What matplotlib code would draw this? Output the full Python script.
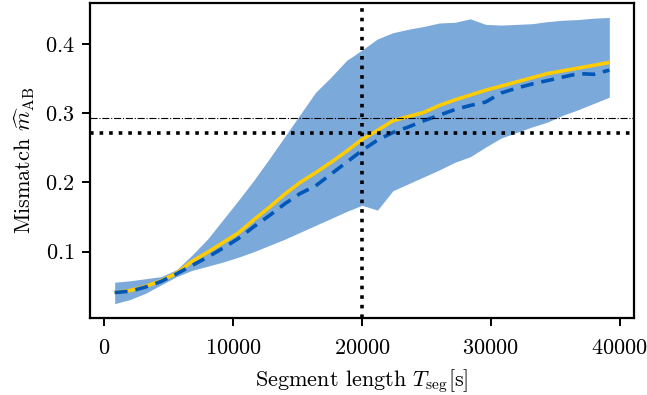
import numpy as np
import matplotlib
matplotlib.use('Agg')
import matplotlib.pyplot as plt

plt.rcParams['font.family'] = 'serif'
plt.rcParams['font.serif'] = ['cmr10']
plt.rcParams['mathtext.fontset'] = 'cm'
plt.rcParams['axes.formatter.use_mathtext'] = True

# segment lengths [s]
t_seg = [800, 2000, 3200, 4400, 5600, 6800, 8000, 9200, 10400, 11600, 12800,
         14000, 15200, 16400, 17600, 18800, 20000, 21200, 22400, 23600, 24800,
         26000, 27200, 28400, 29600, 30800, 32000, 33200, 34400, 35600, 36800,
         38000, 39200]

# median mismatch (solid yellow)
m_median = [0.041, 0.044, 0.050, 0.058, 0.069, 0.086, 0.099, 0.113, 0.127, 0.146,
            0.164, 0.183, 0.200, 0.214, 0.229, 0.245, 0.262, 0.275, 0.289, 0.295,
            0.301, 0.311, 0.319, 0.326, 0.333, 0.339, 0.345, 0.351, 0.357, 0.361,
            0.365, 0.369, 0.373]

# mean mismatch (dashed blue)
m_mean = [0.041, 0.043, 0.049, 0.057, 0.068, 0.080, 0.092, 0.105, 0.119, 0.136,
          0.152, 0.169, 0.184, 0.195, 0.212, 0.229, 0.246, 0.261, 0.272, 0.280,
          0.289, 0.297, 0.305, 0.311, 0.316, 0.329, 0.336, 0.342, 0.347, 0.352,
          0.357, 0.356, 0.362]

# spread band
m_upper = [0.056, 0.058, 0.061, 0.064, 0.074, 0.095, 0.118, 0.146, 0.174, 0.203,
           0.234, 0.266, 0.298, 0.330, 0.352, 0.376, 0.391, 0.407, 0.416, 0.421,
           0.425, 0.430, 0.431, 0.436, 0.428, 0.427, 0.428, 0.429, 0.432, 0.434,
           0.435, 0.437, 0.438]
m_lower = [0.025, 0.031, 0.040, 0.052, 0.064, 0.073, 0.079, 0.085, 0.092, 0.100,
           0.109, 0.118, 0.128, 0.138, 0.148, 0.158, 0.167, 0.160, 0.188, 0.198,
           0.208, 0.218, 0.229, 0.237, 0.251, 0.264, 0.272, 0.280, 0.287, 0.297,
           0.305, 0.314, 0.323]

# reference lines
t_ref = 20000
m_thresh_dashdot = 0.293
m_thresh_dotted = 0.271

fig = plt.figure(figsize=(6.47, 3.95), dpi=100)
ax = fig.add_axes([0.139, 0.195, 0.841, 0.797])

ax.fill_between(t_seg, m_lower, m_upper, color='#7ba9da', linewidth=0)
ax.plot(t_seg, m_median, color='#ffcc00', linewidth=2.6, solid_capstyle='butt')
ax.plot(t_seg, m_mean, color='#0057b8', linewidth=2.6, linestyle=(0, (3.6, 2.2)))

ax.axvline(t_ref, color='black', linestyle=':', linewidth=2.6)
ax.axhline(m_thresh_dotted, color='black', linestyle=':', linewidth=2.6)
ax.axhline(m_thresh_dashdot, color='black', linestyle='-.', linewidth=0.8)

ax.set_xticks([0, 10000, 20000, 30000, 40000])
ax.set_yticks([0.1, 0.2, 0.3, 0.4])
ax.tick_params(labelsize=16, width=1.4, length=6)
ax.tick_params(axis='x', pad=9)
ax.tick_params(axis='y', pad=5)
for s in ax.spines.values():
    s.set_linewidth(1.6)

ax.set_xlabel(r'Segment length $T_{\rm seg}$[s]', fontsize=16, labelpad=6)
ax.set_ylabel(r'Mismatch $\widehat{m}_{\rm AB}$', fontsize=16, labelpad=6)

fig.savefig('out.png', dpi=100)
